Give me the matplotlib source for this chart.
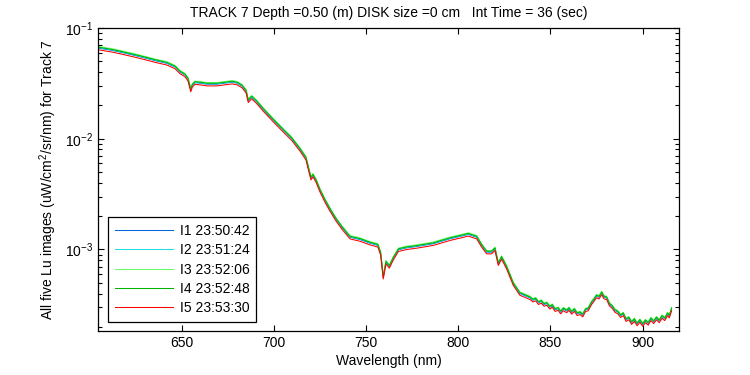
import numpy as np
import matplotlib
matplotlib.use("Agg")
import matplotlib.pyplot as plt
from matplotlib.ticker import LogLocator, FixedLocator

plt.rcParams['font.family'] = ['Liberation Sans', 'DejaVu Sans']
plt.rcParams['mathtext.fontset'] = 'custom'
plt.rcParams['mathtext.rm'] = 'Liberation Sans'
plt.rcParams['mathtext.default'] = 'regular'

# wavelength (nm) and mean Lu spectrum
wavelength = [604.6, 611.1, 616.5, 623.6, 630.1, 635.5, 641.9, 646.4, 649.1, 651.8,
              653.4, 654.9, 655.8, 657.2, 659.9, 663.7, 669.1, 673.5, 677.3, 680.0,
              682.7, 684.9, 686.1, 687.9, 690.7, 694.2, 699.7, 705.1, 709.6, 714.1,
              717.4, 719.0, 720.1, 721.2, 722.8, 725.0, 727.7, 730.4, 733.7, 736.9,
              741.3, 746.7, 752.1, 756.4, 757.9, 759.3, 760.8, 762.6, 764.7, 767.5,
              772.0, 777.4, 786.4, 795.5, 800.9, 805.4, 810.0, 812.7, 815.4, 818.1,
              819.9, 821.7, 823.5, 826.2, 829.8, 833.4, 838.9, 840.5, 842.0, 843.5,
              845.0, 846.5, 848.0, 849.7, 851.0, 852.5, 854.2, 855.5, 857.0, 858.8,
              860.0, 861.5, 863.0, 864.5, 866.0, 867.5, 869.0, 870.5, 872.3, 873.5,
              875.0, 876.3, 877.8, 879.0, 880.5, 882.0, 883.5, 885.0, 886.5, 888.0,
              889.5, 891.0, 892.5, 894.0, 895.5, 897.0, 898.5, 900.0, 901.5, 903.0,
              904.5, 906.0, 907.5, 909.0, 910.5, 912.0, 913.5, 914.5, 915.7]

lu_mean = [0.0659, 0.0633, 0.0607, 0.0570, 0.0536, 0.0508, 0.0480, 0.0444, 0.0400, 0.0376,
           0.0345, 0.0275, 0.0305, 0.0321, 0.0318, 0.0311, 0.0311, 0.0318, 0.0324, 0.0318,
           0.0299, 0.0269, 0.0220, 0.0238, 0.0215, 0.0184, 0.0147, 0.0119, 0.01004, 0.00803,
           0.00667, 0.00519, 0.00440, 0.00468, 0.00421, 0.00342, 0.00277, 0.00230, 0.00187, 0.00158,
           0.00129, 0.00123, 0.00114, 0.00109, 0.000920, 0.000561, 0.000767, 0.000702, 0.000829, 0.000994,
           0.001035, 0.001064, 0.001127, 0.001250, 0.001312, 0.001368, 0.001292, 0.001086, 0.000946, 0.000946,
           0.001015, 0.000743, 0.000847, 0.000692, 0.000492, 0.000400, 0.000366, 0.000348, 0.000356, 0.000330,
           0.000340, 0.000318, 0.000325, 0.000300, 0.000312, 0.000286, 0.000292, 0.000272, 0.000290, 0.000278,
           0.000292, 0.000270, 0.000286, 0.000262, 0.000268, 0.000255, 0.000285, 0.000290, 0.000330, 0.000350,
           0.000380, 0.000370, 0.000405, 0.000372, 0.000365, 0.000320, 0.000305, 0.000280, 0.000272, 0.000252,
           0.000262, 0.000232, 0.000240, 0.000218, 0.000232, 0.000212, 0.000228, 0.000210, 0.000226, 0.000215,
           0.000236, 0.000222, 0.000240, 0.000226, 0.000248, 0.000236, 0.000262, 0.000250, 0.000290]

# each image sits slightly above/below the mean
image_labels = ['I1 23:50:42', 'I2 23:51:24', 'I3 23:52:06', 'I4 23:52:48', 'I5 23:53:30']
image_scale = [1.00, 1.01, 1.035, 1.02, 0.965]
image_colors = ['#0066dd', '#22dddd', '#66ff66', '#00b400', '#ff0000']

fig = plt.figure(figsize=(7.5, 3.75), dpi=100)
ax = fig.add_axes([0.1307, 0.1173, 0.7746, 0.808])

wl = np.array(wavelength)
lu = np.array(lu_mean)
for lab, s, c in zip(image_labels, image_scale, image_colors):
    ax.plot(wl, lu * s, color=c, lw=0.75, label=lab)

ax.set_yscale('log')
ax.set_xlim(604.6, 919.7)
ax.set_ylim(1.835e-4, 0.1)
ax.xaxis.set_major_locator(FixedLocator([650, 700, 750, 800, 850, 900]))
ax.yaxis.set_major_locator(LogLocator(base=10, numticks=10))
ax.yaxis.set_minor_locator(LogLocator(base=10, subs=np.arange(2, 10), numticks=10))
ax.tick_params(which='both', direction='in', top=True, right=True, labelsize=10)
ax.tick_params(which='major', length=4, width=0.8)
ax.tick_params(which='minor', length=3, width=0.8)
ax.tick_params(axis='x', which='minor', top=False, bottom=False)
for sp in ax.spines.values():
    sp.set_linewidth(0.9)

ax.set_xlabel('Wavelength (nm)', fontsize=10, labelpad=3)
ax.set_ylabel('All five Lu images (uW/cm$^2$/sr/nm) for Track 7', fontsize=10, labelpad=4)
ax.set_title('TRACK 7 Depth =0.50 (m) DISK size =0 cm   Int Time = 36 (sec)', fontsize=10, pad=8)

leg = ax.legend(loc='lower left', bbox_to_anchor=(0.0172, 0.0297), borderaxespad=0,
                fontsize=10, handlelength=4.2, handletextpad=0.45, labelspacing=0.38,
                fancybox=False, framealpha=1, edgecolor='black', borderpad=0.5)
leg.get_frame().set_linewidth(0.9)

fig.savefig('out.png', dpi=100)
